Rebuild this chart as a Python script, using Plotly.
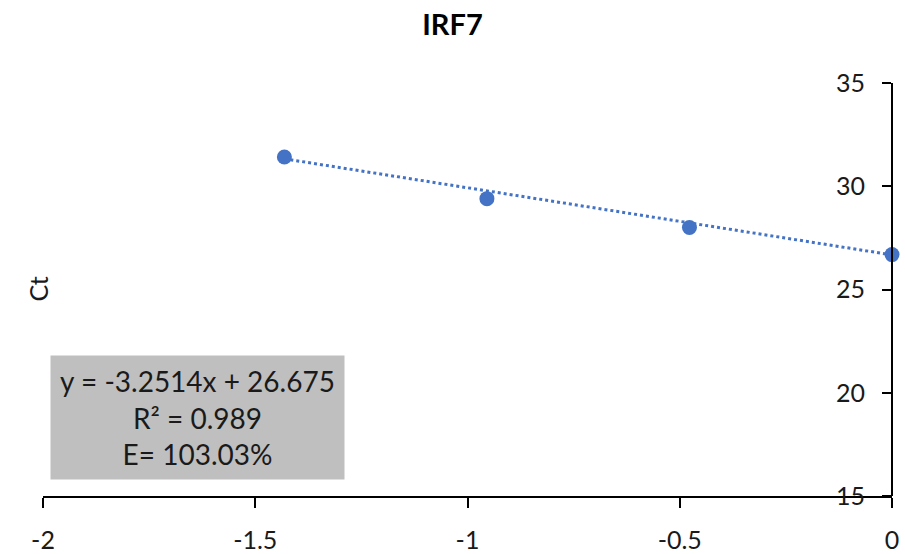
import math
import plotly.graph_objects as go

# Standard curve data: log10 of the dilution factor vs. measured Ct
log_dilution = [math.log10(1 / 27), math.log10(1 / 9), math.log10(1 / 3), 0.0]
ct_values = [31.42, 29.40, 28.00, 26.69]

# Linear trendline parameters and stats shown in the box
slope = -3.2514
intercept = 26.675
r_squared = 0.989
efficiency = 103.03

title_text = "IRF7"
y_title = "Ct"
x_ticks = [-2, -1.5, -1, -0.5, 0]
y_ticks = [15, 20, 25, 30, 35]

FONT = "Lato"
BLUE = "#4472C4"
TXT = "#1a1a1a"

trend_x = [log_dilution[0], 0.0]
trend_y = [slope * x + intercept for x in trend_x]

fig = go.Figure()
fig.add_trace(go.Scatter(
    x=trend_x, y=trend_y, mode="lines",
    line=dict(color=BLUE, width=3, dash="dot"),
    hoverinfo="skip", showlegend=False,
))
fig.add_trace(go.Scatter(
    x=log_dilution, y=ct_values, mode="markers",
    marker=dict(color=BLUE, size=15),
    cliponaxis=False, showlegend=False,
))

box_text = (f"y = {slope}x + {intercept}<br>"
            f"R² = {r_squared}<br>"
            f"E= {efficiency:.2f}%")

fig.add_annotation(
    xref="paper", yref="paper", x=0.0078, y=0.3414, xanchor="left", yanchor="top",
    text=box_text, showarrow=False, align="center",
    font=dict(family=FONT, size=28, color=TXT),
    bgcolor="#BFBFBF", width=293, height=123, borderpad=0,
)

fig.add_annotation(
    xref="paper", yref="paper", x=0.0, y=0.5, xanchor="center", yanchor="middle",
    xshift=-6, text=y_title, textangle=-90, showarrow=False,
    font=dict(family=FONT, size=25, color=TXT),
)

fig.update_layout(
    width=905, height=554,
    margin=dict(l=43, r=13, t=83, b=58),
    paper_bgcolor="white", plot_bgcolor="white",
    title=dict(text=f"<b>{title_text}</b>", x=0.5, xanchor="center",
               y=0.955, yanchor="middle",
               font=dict(family=FONT, size=29, color="black")),
    font=dict(family=FONT, size=25, color=TXT),
)

fig.update_xaxes(
    range=[-2, 0], tickvals=x_ticks, ticktext=[f"{v:g}" for v in x_ticks],
    showgrid=False, zeroline=False, showline=True, linecolor="black", linewidth=2,
    ticks="outside", ticklen=10, tickwidth=2, tickcolor="black",
    ticklabelstandoff=11, automargin=False,
)
# value axis crosses the category axis at x = 0, i.e. the right edge of the plot
fig.update_yaxes(
    range=[15, 35], tickvals=y_ticks, side="left", anchor="free", position=1.0,
    showgrid=False, zeroline=False, showline=True, linecolor="black", linewidth=2,
    ticks="outside", ticklen=9, tickwidth=2, tickcolor="black",
    ticklabelstandoff=12, automargin=False,
)

fig.write_html("out.html")
